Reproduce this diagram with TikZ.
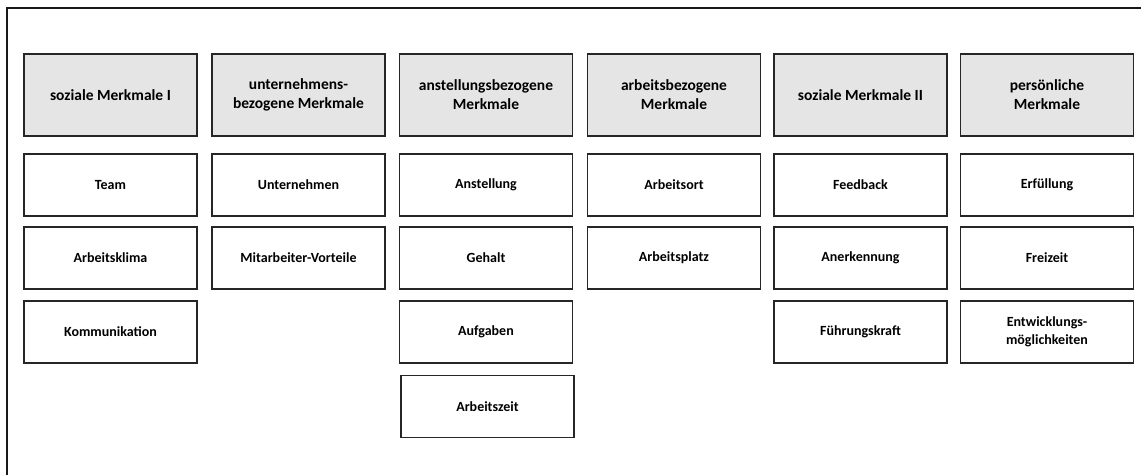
\documentclass[tikz,border=0pt]{standalone}
\usepackage{fontspec}
\setmainfont{Carlito}
\usepackage{tikz}
\usetikzlibrary{positioning}

\begin{document}
\begin{tikzpicture}[x=1pt,y=-1pt,
	kopf/.style={draw=black!85,line width=1.1pt,fill=black!10,minimum width=173pt,minimum height=82pt,inner sep=0pt,align=center,font=\fontsize{15.5}{19}\selectfont\bfseries},
	merkmal/.style={draw=black!85,line width=1.1pt,fill=white,minimum width=173pt,minimum height=62pt,inner sep=0pt,align=center,font=\fontsize{14}{18}\selectfont\bfseries}]
	
	\useasboundingbox (0,0) rectangle (1141,475);
	
	% Rahmen (nur oben und links sichtbar)
	\draw[line width=1.6pt,black!90] (7,475) -- (7,8) -- (1141,8);
	
	% Kopfzeile
	\node[kopf] (sozI) at (110.5,95) {soziale Merkmale I};
	\node[kopf] (unt) at (298.5,95) {unternehmens-\\bezogene Merkmale};
	\node[kopf] (anst) at (486,95) {anstellungsbezogene\\Merkmale};
	\node[kopf] (arb) at (674,95) {arbeitsbezogene\\Merkmale};
	\node[kopf] (sozII) at (860.5,95) {soziale Merkmale II};
	\node[kopf] (pers) at (1047,95) {persönliche\\Merkmale};
	
	% soziale Merkmale I
	\node[merkmal] (team) at (110.5,185) {Team};
	\node[merkmal] (klima) at (110.5,258) {Arbeitsklima};
	\node[merkmal] (komm) at (110.5,332) {Kommunikation};
	
	% unternehmensbezogene Merkmale
	\node[merkmal] (unternehmen) at (298.5,185) {Unternehmen};
	\node[merkmal] (vorteile) at (298.5,258) {Mitarbeiter-Vorteile};
	
	% anstellungsbezogene Merkmale
	\node[merkmal] (anstellung) at (486,185) {Anstellung};
	\node[merkmal] (gehalt) at (486,258) {Gehalt};
	\node[merkmal] (aufgaben) at (486,332) {Aufgaben};
	\node[merkmal] (zeit) at (487.5,406.5) {Arbeitszeit};
	
	% arbeitsbezogene Merkmale
	\node[merkmal] (ort) at (674,185) {Arbeitsort};
	\node[merkmal] (platz) at (674,258) {Arbeitsplatz};
	
	% soziale Merkmale II
	\node[merkmal] (feedback) at (860.5,185) {Feedback};
	\node[merkmal] (anerk) at (860.5,258) {Anerkennung};
	\node[merkmal] (fuehrung) at (860.5,332) {Führungskraft};
	
	% persönliche Merkmale
	\node[merkmal] (erf) at (1047,185) {Erfüllung};
	\node[merkmal] (frei) at (1047,258) {Freizeit};
	\node[merkmal] (entw) at (1047,332) {Entwicklungs-\\möglichkeiten};
	
\end{tikzpicture}
\end{document}
